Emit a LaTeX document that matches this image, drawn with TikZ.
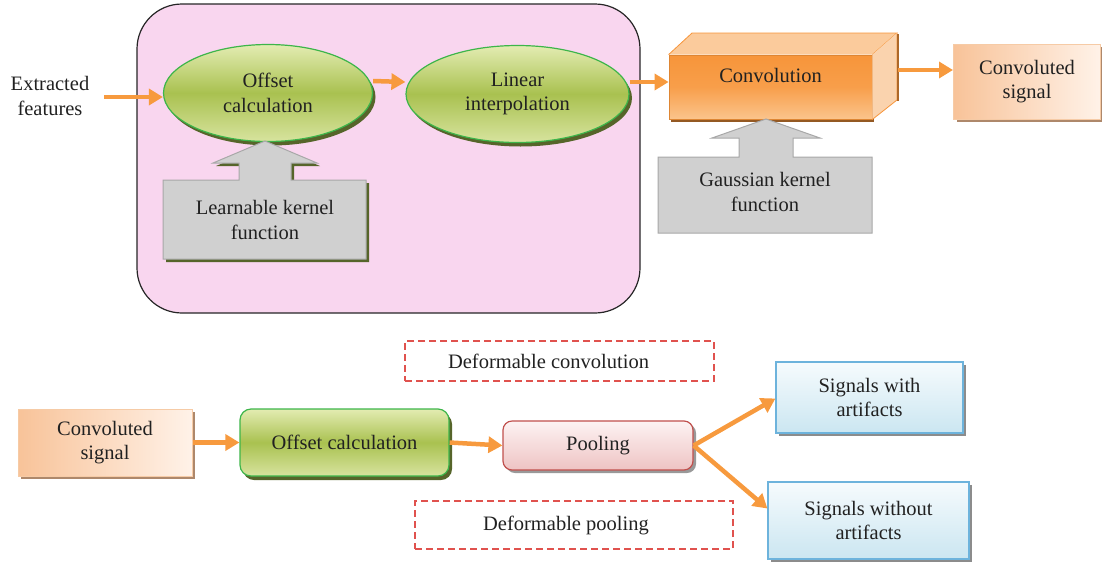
\documentclass[tikz,border=0pt]{standalone}
\usepackage{fontspec}
\newfontfamily\diafont{Liberation Serif}
\usetikzlibrary{shapes.geometric,arrows.meta,shadows,calc}
\definecolor{arr}{HTML}{F79A3E}
\definecolor{pinkbg}{HTML}{F9D6EF}
\definecolor{gTop}{HTML}{E3ECB2}
\definecolor{gMid}{HTML}{A9C150}
\definecolor{gBor}{HTML}{3DB54A}
\definecolor{gSh}{HTML}{56652A}
\definecolor{grayF}{HTML}{D0D0D0}
\definecolor{grayB}{HTML}{A8A8A8}
\definecolor{oDark}{HTML}{F7953A}
\definecolor{oLight}{HTML}{FBC48C}
\definecolor{oTop}{HTML}{FBCB9C}
\definecolor{oSide}{HTML}{FAD3AE}
\definecolor{peachD}{HTML}{F8C399}
\definecolor{peachL}{HTML}{FFF2E8}
\definecolor{peachB}{HTML}{F6CBA6}
\definecolor{pkTop}{HTML}{FDF3F3}
\definecolor{pkBot}{HTML}{EEC3C3}
\definecolor{pkBor}{HTML}{C0504D}
\definecolor{blTop}{HTML}{F6FBFD}
\definecolor{blBot}{HTML}{CBE6F1}
\definecolor{blBor}{HTML}{6DB3DC}
\definecolor{dashR}{HTML}{E0524E}
\begin{document}
\begin{tikzpicture}[x=1pt,y=-1pt,
  font=\diafont\fontsize{20.5}{24.5}\selectfont,
  every node/.style={inner sep=0pt, align=center, text=black!87},
  flow/.style={draw=arr, line width=4.5pt, -{Triangle[length=14pt,width=16pt]}},
  greenfill/.style={top color=gTop, bottom color=gTop!80!gMid, middle color=gMid, draw=gBor, line width=1.2pt,
     drop shadow={shadow xshift=3pt, shadow yshift=-4pt, fill=gSh, opacity=1}},
  bluebox/.style={rectangle, top color=blTop, bottom color=blBot, draw=blBor, line width=1.2pt,
     drop shadow={shadow xshift=3pt, shadow yshift=-3pt, fill=black!45, opacity=1}},
  dashbox/.style={rectangle, draw=dashR, line width=1.2pt, dash pattern=on 7pt off 4pt},
  graybox/.style={fill=grayF, draw=grayB, line width=1pt}]
\useasboundingbox (0,0) rectangle (1102,563);

% top block
\node[draw=black!85, line width=1.2pt, fill=pinkbg, rounded corners=45pt,
  minimum width=503pt, minimum height=309pt] (dc) at (388.5,158.5) {};

\node (ef) at (50,96) {Extracted\\features};
\coordinate (efr) at (104,97);

\node[ellipse, greenfill, minimum width=209pt, minimum height=97pt] (oc) at (268,93) {Offset\\calculation};
\node[ellipse, greenfill, minimum width=223pt, minimum height=97pt] (li) at (517.5,94) {Linear\\interpolation};

% learnable kernel function
\fill[gSh] (166,183) -- (242,183) -- (242,166) -- (216,166) -- (268,144) -- (320,166) -- (294,166) -- (294,183) -- (369,183) -- (369,262) -- (166,262) -- cycle;
\draw[graybox] (163,180) -- (239,180) -- (239,163) -- (213,163) -- (265,141) -- (317,163) -- (291,163) -- (291,180) -- (366,180) -- (366,259) -- (163,259) -- cycle;
\node (lk) at (265,220) {Learnable kernel\\function};

% convolution cuboid
\node[rectangle, top color=oDark, bottom color=oLight, middle color=oDark!80!oLight, draw=oDark!90!black, line width=0.8pt,
  minimum width=203pt, minimum height=64pt,
  drop shadow={shadow xshift=2pt, shadow yshift=-3pt, fill=oDark!60!black, opacity=1}] (conv) at (770.5,87) {};
\fill[oTop] (conv.north west) -- (692,33) -- (897,33) -- (conv.north east) -- cycle;
\draw[oDark, line width=0.8pt] (conv.north west) -- (692,33) -- (897,33) -- (conv.north east);
\fill[oSide] (conv.north east) -- (897,33) -- (897,100) -- (conv.south east) -- cycle;
\draw[oDark, line width=0.8pt] (897,33) -- (897,100) -- (conv.south east);
\draw[oDark!70!black, line width=1.5pt] (898,34) -- (898,101);
\node (convt) at (770.5,75) {Convolution};
\coordinate (convr) at (898,70);

\node[rectangle, left color=peachD, right color=peachL, draw=peachB, line width=1pt,
  minimum width=147pt, minimum height=75pt,
  drop shadow={shadow xshift=3pt, shadow yshift=-3pt, fill=peachD!70!black, opacity=1}] (cs) at (1027,81.5) {Convoluted\\signal};

% gaussian kernel function
\draw[graybox] (658,157) -- (739,157) -- (739,138) -- (712,138) -- (766,119) -- (820,138) -- (793,138) -- (793,157) -- (872,157) -- (872,233) -- (658,233) -- cycle;
\node (gk) at (765,192) {Gaussian kernel\\function};

% top connectors
\draw[flow] (efr) -- (oc.west |- efr);
\draw[flow] ([yshift=12pt]oc.east) -- ([yshift=12pt]li.west);
\draw[flow] ([yshift=12pt]li.east) -- ([yshift=5pt]conv.west);
\draw[flow] (convr) -- (cs.west |- convr);

% bottom row
\node[dashbox, minimum width=309pt, minimum height=40pt] (dcv) at (559.5,361) {\hspace*{-22pt}Deformable convolution};
\node[dashbox, minimum width=318pt, minimum height=48pt] (dp) at (574,525) {\hspace*{-16pt}Deformable pooling};

\node[rectangle, left color=peachD, right color=peachL, draw=peachB, line width=1pt,
  minimum width=174pt, minimum height=67pt,
  drop shadow={shadow xshift=3pt, shadow yshift=-3pt, fill=peachD!70!black, opacity=1}] (cs2) at (105,442.5) {Convoluted\\signal};
\node[rectangle, rounded corners=11pt, greenfill, minimum width=209pt, minimum height=67pt] (oc2) at (344.5,442.5) {Offset calculation};
\node[rectangle, rounded corners=9pt, top color=pkTop, bottom color=pkBot, draw=pkBor, line width=1.2pt,
  minimum width=190pt, minimum height=49pt,
  drop shadow={shadow xshift=3pt, shadow yshift=-3pt, fill=black!40, opacity=1}] (pool) at (598,445.5) {Pooling};
\node[bluebox, minimum width=187pt, minimum height=71pt] (sw) at (869.5,397.5) {Signals with\\artifacts};
\node[bluebox, minimum width=201pt, minimum height=77pt] (swo) at (868.5,520.5) {Signals without\\artifacts};

\draw[flow] (cs2.east) -- (oc2.west);
\draw[flow] (oc2.east) -- (pool.west);
\draw[flow] (pool.east) -- ([yshift=-1pt]sw.west);
\draw[flow] (pool.east) -- ([yshift=12pt]swo.west);
\end{tikzpicture}
\end{document}
